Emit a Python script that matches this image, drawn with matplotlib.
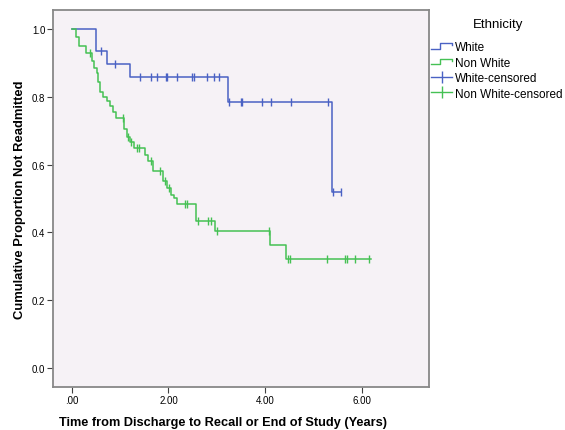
import numpy as np
import matplotlib
matplotlib.use("Agg")
import matplotlib.pyplot as plt
from matplotlib.lines import Line2D
from matplotlib.legend_handler import HandlerBase

## Kaplan-Meier steps (time in years, survival after step)
#
white_times = [0.0, 0.51, 0.72, 1.20, 3.24, 5.39]
white_surv = [1.0, 0.934, 0.896, 0.859, 0.784, 0.52]
white_end = 5.57
white_cens = [0.61, 0.90, 1.41, 1.64, 1.77, 1.94, 1.97, 2.17, 2.49, 2.52, 2.79,
              2.94, 3.05, 3.26, 3.50, 3.53, 3.93, 4.13, 4.53, 5.31, 5.41, 5.57]

nonwhite_times = [0.0, 0.08, 0.15, 0.30, 0.41, 0.46, 0.52, 0.55, 0.58, 0.65, 0.72,
                  0.79, 0.86, 0.92, 1.08, 1.14, 1.20, 1.28, 1.51, 1.58, 1.68, 1.89,
                  1.97, 2.06, 2.12, 2.17, 2.58, 2.96, 4.10, 4.44]
nonwhite_surv = [1.0, 0.975, 0.950, 0.930, 0.905, 0.885, 0.870, 0.845, 0.815, 0.800,
                 0.787, 0.773, 0.755, 0.736, 0.705, 0.680, 0.666, 0.648, 0.627, 0.612,
                 0.580, 0.553, 0.530, 0.510, 0.500, 0.485, 0.435, 0.403, 0.363, 0.322]
nonwhite_end = 6.20
nonwhite_cens = [0.37, 1.05, 1.17, 1.23, 1.34, 1.40, 1.64, 1.82, 1.93, 2.01, 2.34,
                 2.38, 2.62, 2.82, 2.89, 3.01, 4.09, 4.48, 4.52, 5.29, 5.66, 5.70,
                 5.87, 6.16]

xticks = [0, 2, 4, 6]
xticklabels = [".00", "2.00", "4.00", "6.00"]
yticks = [0.0, 0.2, 0.4, 0.6, 0.8, 1.0]
yticklabels = ["0.0", "0.2", "0.4", "0.6", "0.8", "1.0"]

blue = "#4a62c4"
green = "#45c154"

plt.rcParams['font.family'] = ['Liberation Sans', 'DejaVu Sans']


class StepHandler(HandlerBase):
    # small step icon like the SPSS legend
    def create_artists(self, legend, orig_handle, xdescent, ydescent, width, height, fontsize, trans):
        x0 = -xdescent
        y0 = -ydescent
        xs = [x0, x0 + width * 0.4, x0 + width * 0.4, x0 + width, x0 + width]
        ys = [y0 + height * 0.15, y0 + height * 0.15, y0 + height * 0.85, y0 + height * 0.85, y0 + height * 0.6]
        ln = Line2D(xs, ys, color=orig_handle.get_color(), lw=orig_handle.get_linewidth())
        ln.set_transform(trans)
        return [ln]


def draw_group(ax, times, surv, end, cens, color):
    t = np.array(times + [end])
    s = np.array(surv + [surv[-1]])
    ax.step(t, s, where='post', color=color, lw=1.1)
    idx = np.searchsorted(np.array(times), np.array(cens), side='right') - 1
    cy = np.array(surv)[idx]
    ax.plot(cens, cy, linestyle='none', marker='|', markersize=6, mew=1.0, color=color)


fig = plt.figure(figsize=(5.65, 4.31), dpi=100)
ax = fig.add_axes([0.0938, 0.0998, 0.6652, 0.8747])
ax.set_facecolor("#f6f2f6")

draw_group(ax, white_times, white_surv, white_end, white_cens, blue)
draw_group(ax, nonwhite_times, nonwhite_surv, nonwhite_end, nonwhite_cens, green)

ax.set_xlim(-0.39, 7.39)
ax.set_ylim(-0.056, 1.056)
ax.set_xticks(xticks)
ax.set_xticklabels(xticklabels, fontsize=7)
ax.set_yticks(yticks)
ax.set_yticklabels(yticklabels, fontsize=7)
ax.tick_params(direction='out', length=4, width=0.8, color='#404040', pad=1.5)
for sp in ax.spines.values():
    sp.set_color('#888888')
    sp.set_linewidth(1.3)

ax.set_xlabel("Time from Discharge to Recall or End of Study (Years)", fontsize=9.2,
              fontweight='bold', labelpad=8)
ax.xaxis.label.set_x(0.452)
ax.set_ylabel("Cumulative Proportion Not Readmitted", fontsize=9.4, fontweight='bold',
              labelpad=4)

h_white = Line2D([], [], color=blue, lw=1.0)
h_nonwhite = Line2D([], [], color=green, lw=1.0)
h_wc = Line2D([], [], color=blue, lw=1.0, marker='|', markersize=9, mew=1.0)
h_nc = Line2D([], [], color=green, lw=1.0, marker='|', markersize=9, mew=1.0)
leg = fig.legend([h_white, h_nonwhite, h_wc, h_nc],
                 ["White", "Non White", "White-censored", "Non White-censored"],
                 handler_map={h_white: StepHandler(), h_nonwhite: StepHandler()},
                 loc='upper left', bbox_to_anchor=(431 / 565, 1 - 42 / 431), frameon=False,
                 fontsize=8.5, handlelength=1.8, handletextpad=0.2, labelspacing=0.3,
                 borderpad=0, borderaxespad=0, numpoints=1)
fig.text(498 / 565, 1 - 25 / 431, "Ethnicity", fontsize=9.5, ha='center', va='center')

fig.savefig("out.png", dpi=100)
